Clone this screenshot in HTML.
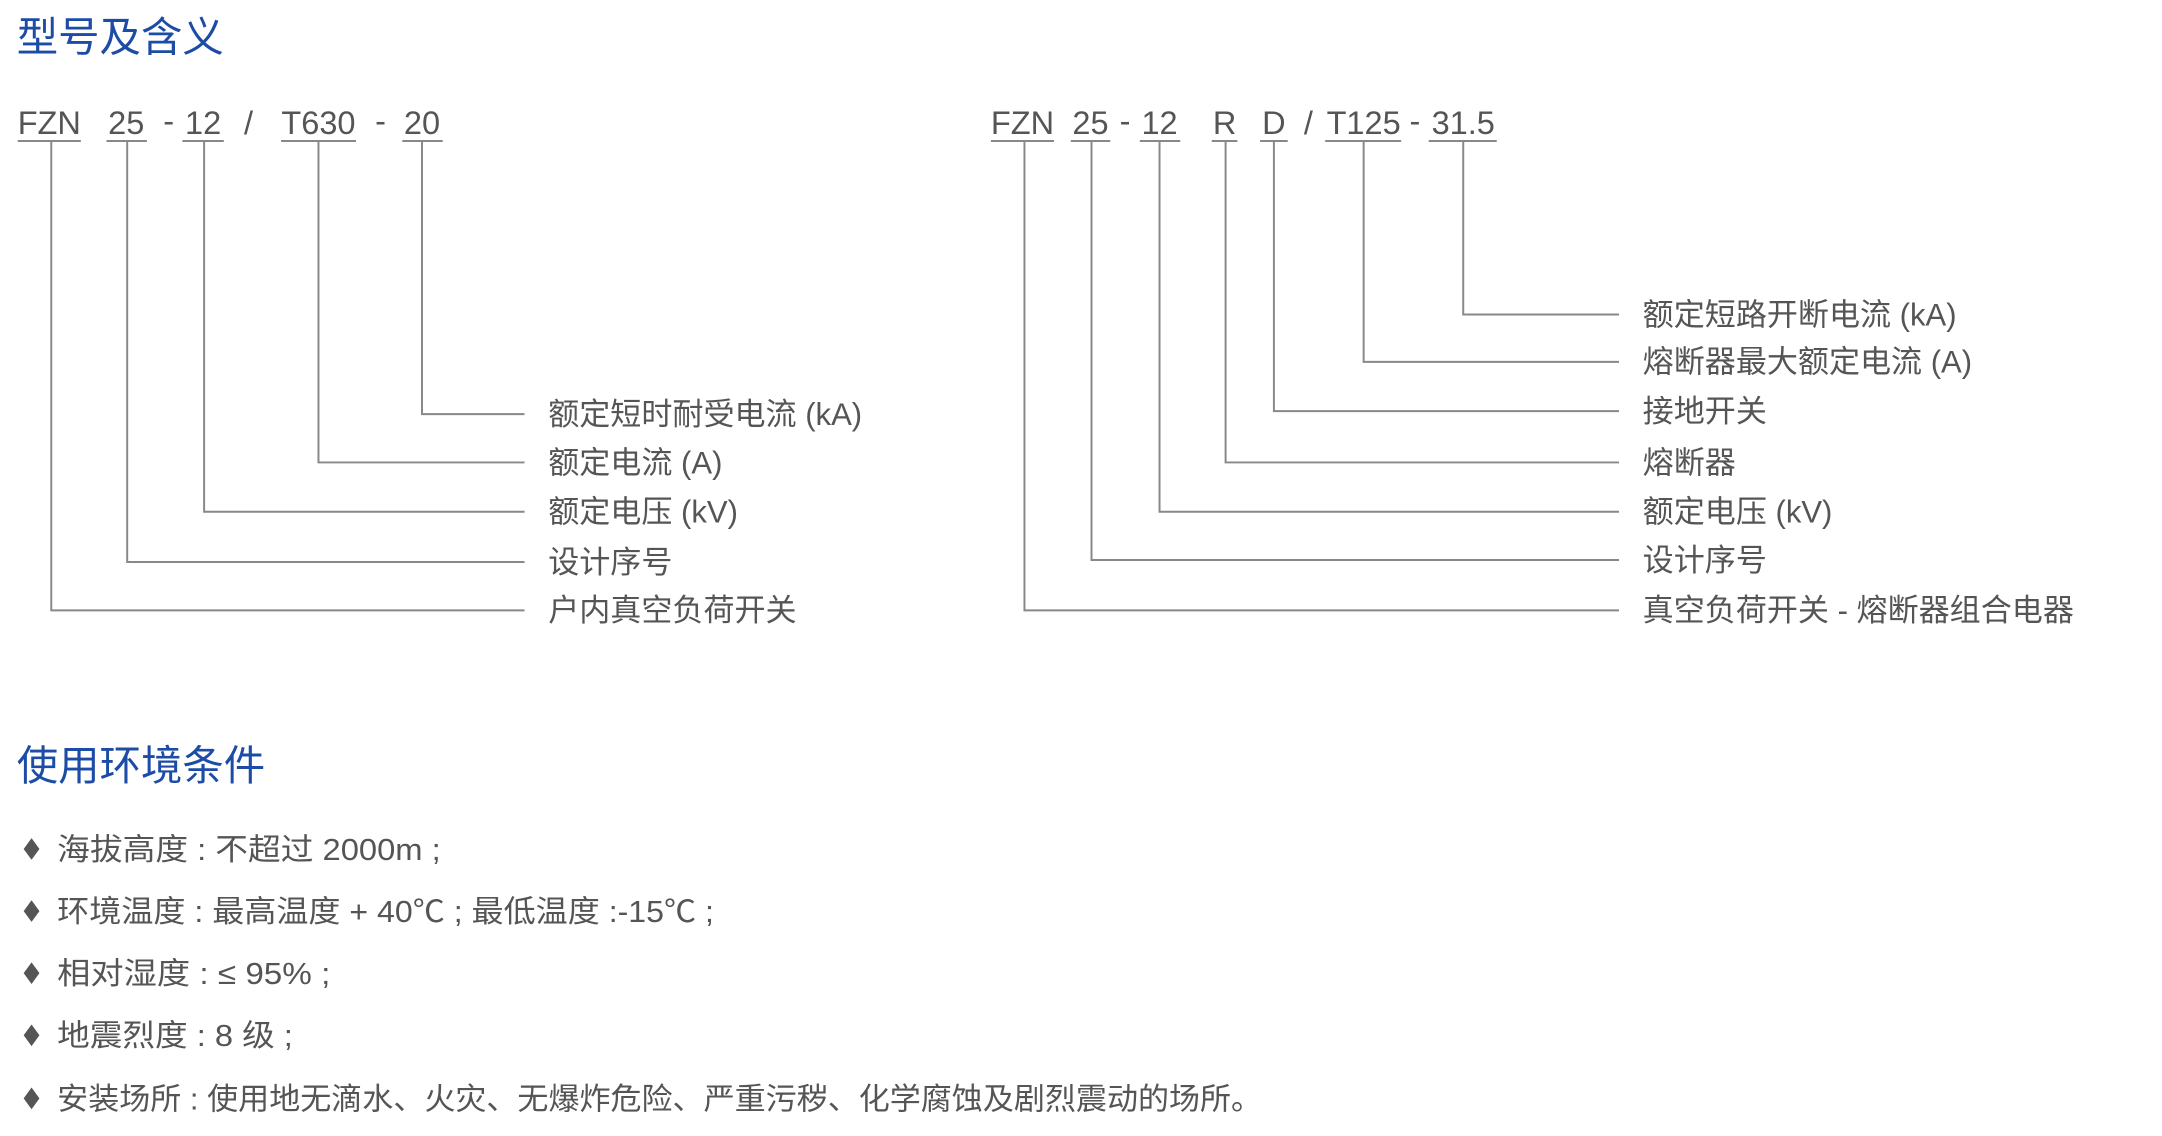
<!DOCTYPE html>
<html><head><meta charset="utf-8">
<style>
html,body{margin:0;padding:0;background:#fff;}
svg{display:block}
text{font-family:"Liberation Sans","Noto Sans CJK SC",sans-serif;fill:#555}
.t{fill:#1c4ca6;font-size:42px}
.c{font-size:33px;text-anchor:middle}
.l{font-size:31.5px}
.b{font-size:31px}
</style></head>
<body>
<svg width="2162" height="1136" viewBox="0 0 2162 1136" xmlns="http://www.w3.org/2000/svg">
<g transform="scale(0.986)">
<text class="t" x="17" y="52">型号及含义</text>

<g>
<text class="c" x="50" y="136">FZN</text>
<text class="c" x="128" y="136">25</text>
<text class="c" x="171" y="134">-</text>
<text class="c" x="206" y="136">12</text>
<text class="c" x="252" y="136">/</text>
<text class="c" x="323" y="136">T630</text>
<text class="c" x="386" y="134">-</text>
<text class="c" x="428" y="136">20</text>
</g>
<g stroke="#888" stroke-width="2" fill="none">
<line x1="18" y1="143" x2="82" y2="143"/>
<line x1="108" y1="143" x2="149" y2="143"/>
<line x1="185" y1="143" x2="227" y2="143"/>
<line x1="285" y1="143" x2="361" y2="143"/>
<line x1="408" y1="143" x2="449" y2="143"/>
<polyline points="428,143 428,420 532,420"/>
<polyline points="323,143 323,469 532,469"/>
<polyline points="207,143 207,519 532,519"/>
<polyline points="129,143 129,570 532,570"/>
<polyline points="52,143 52,619 532,619"/>
</g>
<text class="l" x="556" y="431">额定短时耐受电流 (kA)</text>
<text class="l" x="556" y="480">额定电流 (A)</text>
<text class="l" x="556" y="530">额定电压 (kV)</text>
<text class="l" x="556" y="581">设计序号</text>
<text class="l" x="556" y="630">户内真空负荷开关</text>

<g>
<text class="c" x="1037" y="136">FZN</text>
<text class="c" x="1106" y="136">25</text>
<text class="c" x="1141" y="134">-</text>
<text class="c" x="1176" y="136">12</text>
<text class="c" x="1242" y="136">R</text>
<text class="c" x="1292" y="136">D</text>
<text class="c" x="1327" y="136">/</text>
<text class="c" x="1383" y="136">T125</text>
<text class="c" x="1435" y="134">-</text>
<text class="c" x="1484" y="136">31.5</text>
</g>
<g stroke="#888" stroke-width="2" fill="none">
<line x1="1005" y1="143" x2="1069" y2="143"/>
<line x1="1086" y1="143" x2="1126" y2="143"/>
<line x1="1156" y1="143" x2="1197" y2="143"/>
<line x1="1229" y1="143" x2="1255" y2="143"/>
<line x1="1278" y1="143" x2="1306" y2="143"/>
<line x1="1344" y1="143" x2="1421" y2="143"/>
<line x1="1449" y1="143" x2="1518" y2="143"/>
<polyline points="1484,143 1484,319 1642,319"/>
<polyline points="1383,143 1383,367 1642,367"/>
<polyline points="1292,143 1292,417 1642,417"/>
<polyline points="1243,143 1243,469 1642,469"/>
<polyline points="1176,143 1176,519 1642,519"/>
<polyline points="1107,143 1107,568 1642,568"/>
<polyline points="1039,143 1039,619 1642,619"/>
</g>
<text class="l" x="1666" y="330">额定短路开断电流 (kA)</text>
<text class="l" x="1666" y="378">熔断器最大额定电流 (A)</text>
<text class="l" x="1666" y="428">接地开关</text>
<text class="l" x="1666" y="480">熔断器</text>
<text class="l" x="1666" y="530">额定电压 (kV)</text>
<text class="l" x="1666" y="579">设计序号</text>
<text class="l" x="1666" y="630">真空负荷开关 - 熔断器组合电器</text>

<text class="t" x="17" y="791">使用环境条件</text>

<g fill="#555">
<polygon points="32,850 40,861 32,872 24,861"/>
<polygon points="32,913 40,924 32,935 24,924"/>
<polygon points="32,976 40,987 32,998 24,987"/>
<polygon points="32,1039 40,1050 32,1061 24,1050"/>
<polygon points="32,1103 40,1114 32,1125 24,1114"/>
</g>
<text class="b" x="58" y="872" textLength="389" lengthAdjust="spacingAndGlyphs">海拔高度 : 不超过 2000m ;</text>
<text class="b" x="58" y="935" textLength="666" lengthAdjust="spacingAndGlyphs">环境温度 : 最高温度 + 40℃ ; 最低温度 :-15℃ ;</text>
<text class="b" x="58" y="998" textLength="277" lengthAdjust="spacingAndGlyphs">相对湿度 : ≤ 95% ;</text>
<text class="b" x="58" y="1061" textLength="239" lengthAdjust="spacingAndGlyphs">地震烈度 : 8 级 ;</text>
<text class="b" x="58" y="1125" textLength="1222" lengthAdjust="spacingAndGlyphs">安装场所 : 使用地无滴水、火灾、无爆炸危险、严重污秽、化学腐蚀及剧烈震动的场所。</text>
</g>
</svg>
</body></html>
